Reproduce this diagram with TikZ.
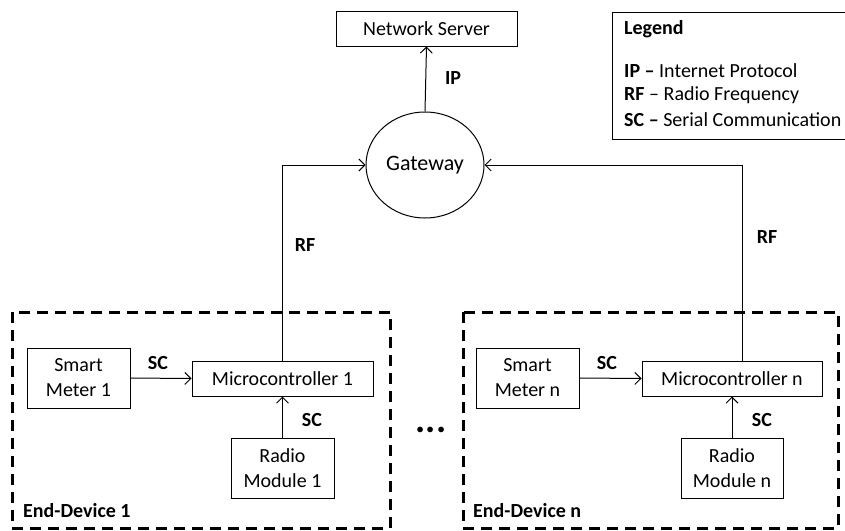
\documentclass[tikz,border=0pt]{standalone}
\usepackage{fontspec}
\setmainfont{Carlito}
\usetikzlibrary{arrows.meta,shapes.geometric}
\begin{document}
\begin{tikzpicture}[x=1pt,y=-1pt,
  every node/.style={font=\fontsize{20}{25}\selectfont, inner sep=0pt},
  box/.style={draw, line width=1pt, align=center},
  lbl/.style={font=\fontsize{20}{25}\selectfont\bfseries},
  arr/.style={line width=1pt, -{Straight Barb[length=6pt,width=12pt,line width=1pt]}},
  device/.style={draw, line width=3pt, dash pattern=on 11pt off 7pt}]
\useasboundingbox (0,0) rectangle (845,530);

% top level
\node[box, minimum width=181pt, minimum height=35pt] (ns) at (426.5,28.5) {Network Server};
\node[box, ellipse, minimum width=118pt, minimum height=106pt, font=\fontsize{22}{26}\selectfont] (gw) at (425,165) {Gateway};

% legend
\draw[line width=1pt] (612,12) rectangle (850,139);
\node[anchor=west, lbl] (lgt) at (624,29) {Legend};
\node[anchor=west] (lg1) at (624,71) {\textbf{IP –} Internet Protocol};
\node[anchor=west] (lg2) at (624,95) {\textbf{RF} – Radio Frequency};
\node[anchor=west] (lg3) at (624,120) {\textbf{SC –} Serial Communication};

% end-device 1
\draw[device] (12,312) rectangle (390,528);
\node[box, minimum width=103pt, minimum height=60pt] (sm1) at (78.5,378) {Smart\\Meter 1};
\node[box, minimum width=181pt, minimum height=35pt] (mc1) at (282.5,378.5) {Microcontroller 1};
\node[box, minimum width=103pt, minimum height=60pt] (rm1) at (282.5,468) {Radio\\Module 1};
\node[anchor=west, lbl] (ed1) at (23,511) {End-Device 1};

% end-device n
\draw[device] (463,312) rectangle (838,528);
\node[box, minimum width=103pt, minimum height=60pt] (smn) at (527.5,378) {Smart\\Meter n};
\node[box, minimum width=180pt, minimum height=35pt] (mcn) at (732,378.5) {Microcontroller n};
\node[box, minimum width=102pt, minimum height=60pt] (rmn) at (732,468) {Radio\\Module n};
\node[anchor=west, lbl] (edn) at (473,511) {End-Device n};

\node[font=\fontsize{38}{40}\selectfont\bfseries] (dots) at (431,430) {...};

% connectors
\draw[arr] (gw.north) -- (ns.south);
\draw[arr] (mc1.north) |- (gw.west);
\draw[arr] ([xshift=10pt]mcn.north) |- (gw.east);
\draw[arr] (sm1.east) -- (mc1.west);
\draw[arr] (rm1.north) -- (mc1.south);
\draw[arr] (smn.east) -- (mcn.west);
\draw[arr] (rmn.north) -- (mcn.south);

% connector labels
\node[lbl] (lip) at (453,78) {IP};
\node[lbl] (lrf1) at (305,245) {RF};
\node[lbl] (lrfn) at (767,237) {RF};
\node[lbl] (lsc1) at (158,363) {SC};
\node[lbl] (lsc2) at (312,420) {SC};
\node[lbl] (lsc3) at (607,363) {SC};
\node[lbl] (lsc4) at (762,420) {SC};
\end{tikzpicture}
\end{document}
